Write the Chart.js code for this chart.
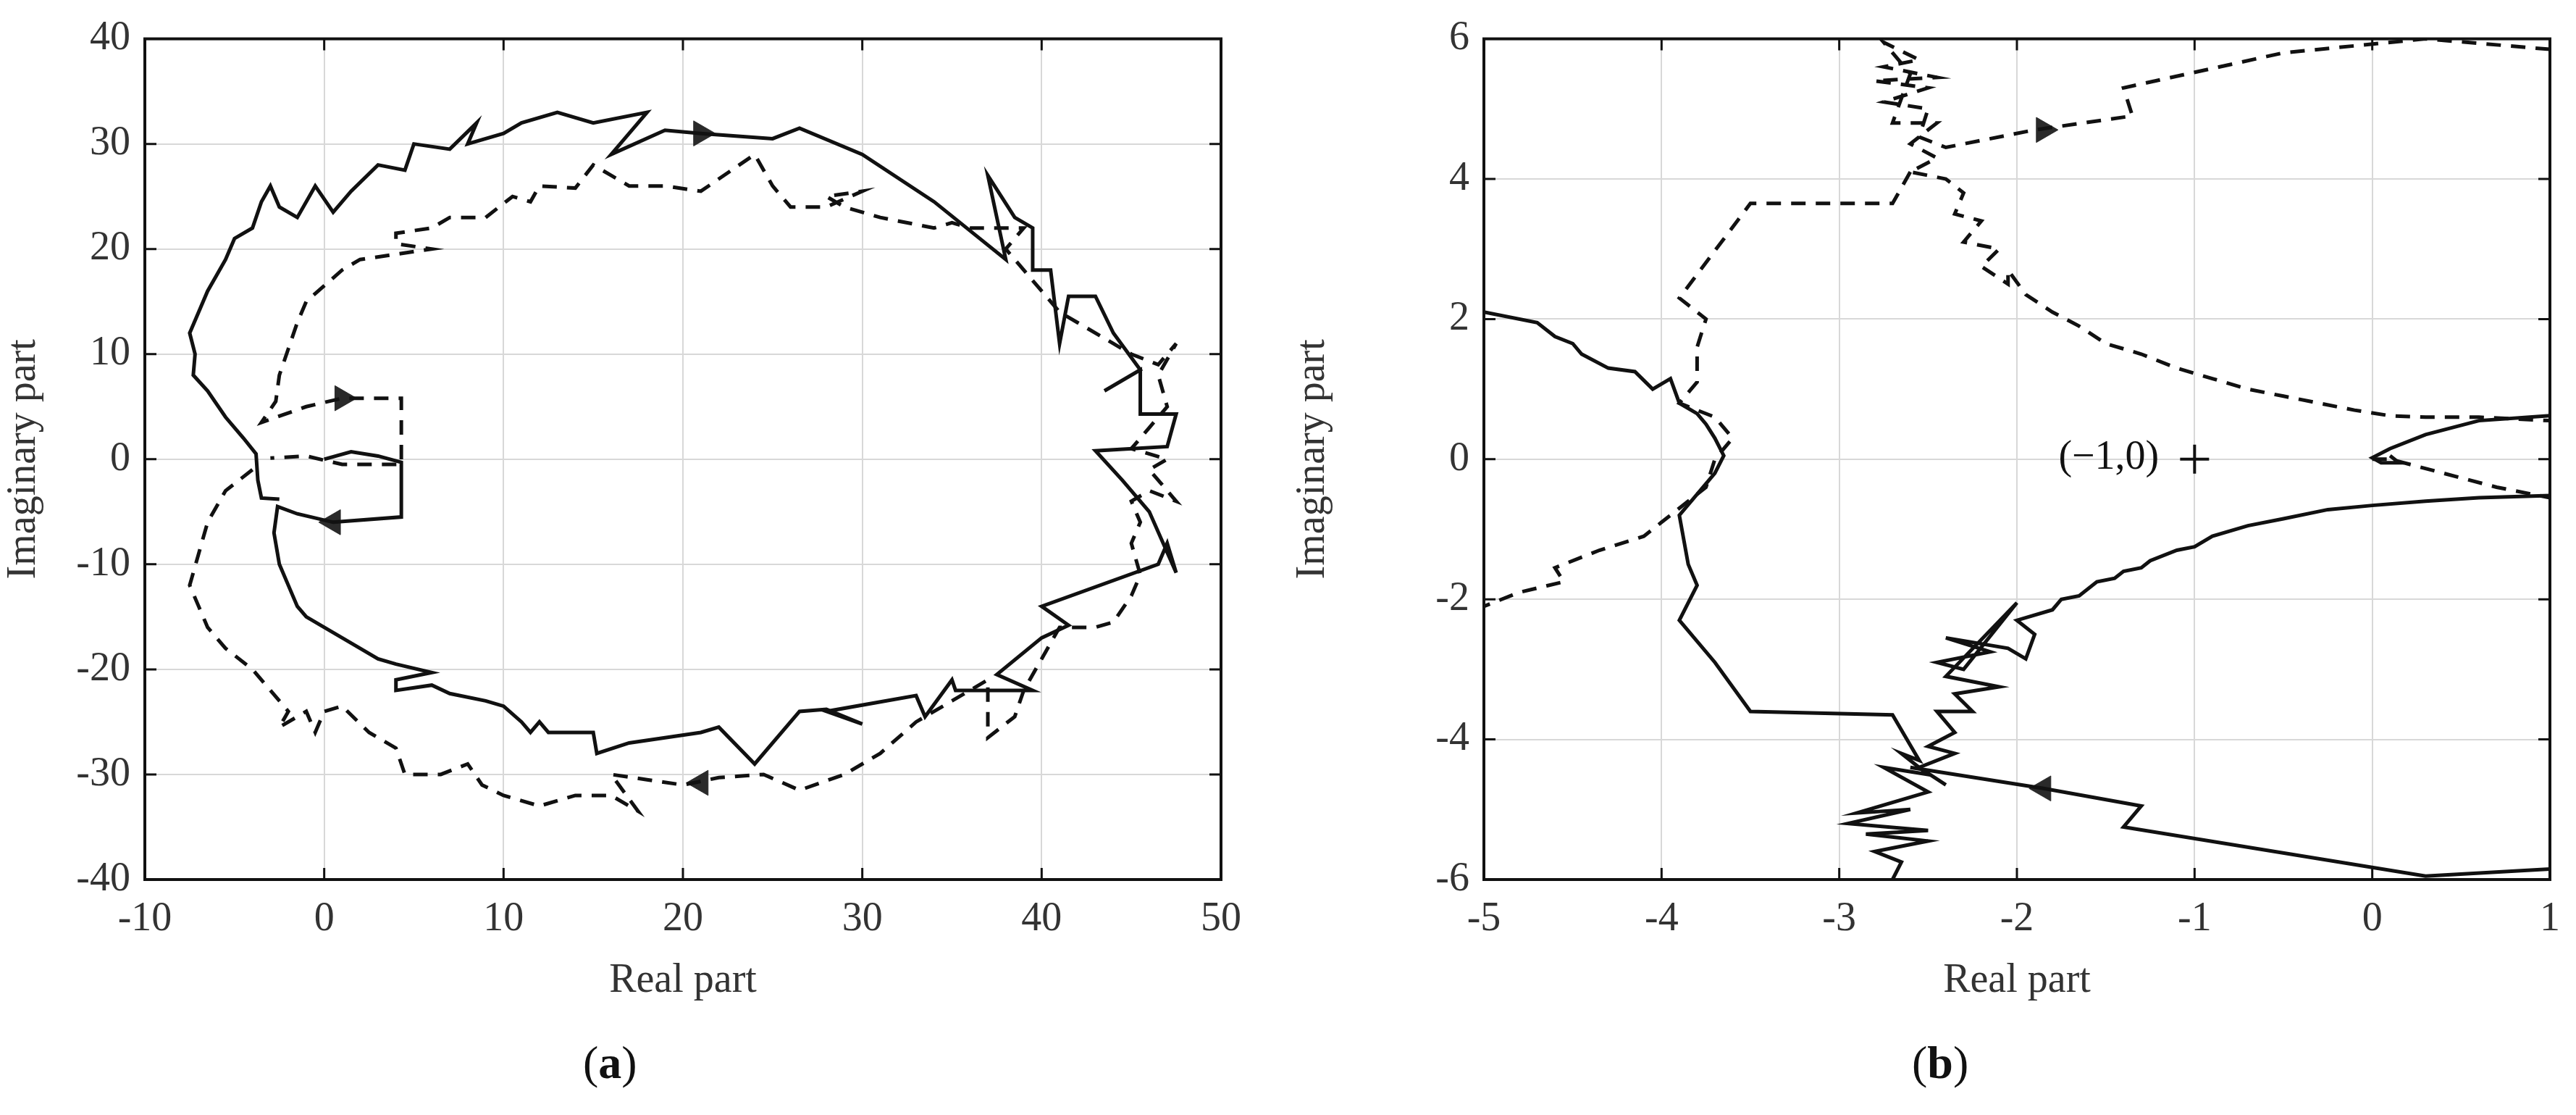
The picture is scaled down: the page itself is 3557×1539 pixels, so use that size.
<!DOCTYPE html>
<html>
<head>
<meta charset="utf-8">
<script src="https://cdn.jsdelivr.net/npm/chart.js@4.4.1/dist/chart.umd.min.js"></script>
<style>
  body { margin: 0; background: #fff; width: 3557px; height: 1539px; position: relative; overflow: hidden; }
  .wrap { position: absolute; top: 0; height: 1539px; }
  .lbl { position: absolute; font-family: "Liberation Serif", serif; font-size: 64px; color: #111; }
</style>
</head>
<body>
<div class="wrap" style="left:0;width:1740px"><canvas id="chartA"></canvas></div>
<div class="wrap" style="left:1780px;width:1777px"><canvas id="chartB"></canvas></div>
<div class="lbl" style="left:805px;top:1430px">(<b>a</b>)</div>
<div class="lbl" style="left:2640px;top:1430px">(<b>b</b>)</div>
<script>
// panel (a) — full Nyquist plot
const aSolid = [[0,0],[1.5,0.7],[3,0.3],[4.3,-0.3],[4.3,-5.5],[0.5,-6],[-1.5,-5.2],[-2.6,-4.5],[-2.8,-7],[-2.5,-10],[-2,-12],[-1.5,-14],[-1,-15],[0,-16],[1,-17],[2,-18],[3,-19],[4,-19.5],[6,-20.3],[4,-21],[4,-22],[6,-21.5],[7,-22.3],[9,-23],[10,-23.5],[11,-25],[11.5,-26],[12,-25],[12.5,-26],[15,-26],[15.2,-28],[17,-27],[19,-26.5],[21,-26],[22,-25.5],[24,-29],[26.5,-24],[28,-23.8],[30,-25.2],[28,-24],[33,-22.5],[33.5,-24.5],[35,-21],[35.2,-22],[39.5,-22],[37.5,-20.5],[40,-17],[41.5,-15.8],[40,-14],[46.5,-10],[47,-8],[47.5,-10.8],[46,-5],[44.5,-2],[43,0.8],[47,1.2],[47.5,4.3],[45.5,4.3],[45.5,8.5],[43.5,6.5],[45.5,8.5],[44,12],[43,15.5],[41.5,15.5],[41,11],[40.5,18],[39.5,18],[39.5,22],[38.5,23],[37,27],[38,19],[34,24.5],[30,29],[26.5,31.5],[25,30.5],[21,31],[19,31.3],[16,29],[18,33],[15,32],[13,33],[11,32],[10,31],[8,30],[8.5,32],[7,29.5],[5,30],[4.5,27.5],[3,28],[1.5,25.5],[0.5,23.5],[-0.5,26],[-1.5,23],[-2.5,24],[-3,26],[-3.5,24.5],[-4,22],[-5,21],[-5.5,19],[-6,17.5],[-6.5,16],[-7,14],[-7.5,12],[-7.2,10],[-7.3,8],[-6.5,6.5],[-5.5,4],[-4.5,2],[-3.8,0.5],[-3.7,-2],[-3.5,-3.7],[-2.5,-3.8]];
const aDashed = [[-4,-1],[-5.5,-3],[-6.5,-6],[-7,-9],[-7.5,-12],[-7,-14],[-6.5,-16],[-5.5,-18],[-4,-20],[-3,-22],[-2,-24],[-2.5,-25.5],[-1,-24],[-0.5,-26],[0,-24],[1,-23.5],[2.5,-26],[4,-27.5],[4.5,-30],[6.5,-30],[8,-29],[8.8,-31],[10,-32],[12,-33],[14,-32],[16,-32],[17.5,-33.5],[16,-30],[18,-30.5],[20,-31],[22,-30.3],[24.5,-30],[26.5,-31.5],[29,-30],[31,-28],[33,-25],[35,-23],[37,-21],[37,-26.5],[38.5,-24.5],[39,-22],[40,-19],[41,-16],[43,-16],[44,-15.5],[45,-13],[45.5,-11],[45,-8],[45.5,-6],[45,-4],[46,-3],[47.5,-4],[46,-1],[47,0],[45,1],[46,3],[47,5],[46.5,8],[47.5,11],[46.5,9],[45,10],[43.5,11.5],[42,13],[41,14],[40,16],[39,18],[38,20],[39,22],[36,22],[35,22.5],[34,22],[31,23],[29,24],[28,25],[30,25.5],[28,24],[26,24],[25,26],[24,29],[21,25.5],[19,26],[17,26],[16,27],[15,28],[14,25.8],[12,26],[11.5,24.5],[10.5,25],[9,23],[7,23],[6,22],[4,21.5],[4,20.5],[6,20],[4,19.5],[2,19],[1,18],[0,16.5],[-1,15],[-1.5,13],[-2,10.5],[-2.5,8],[-2.7,5.5],[-3.5,3.5],[-1,5],[1,5.8],[4.3,5.8],[4.3,-0.5],[1,-0.5],[-1,0.3],[-3,0.1]];
const aArrowsRight = [[21,31],[1,5.8]];
const aArrowsLeft = [[0.5,-6],[21,-30.8]];
const aXTicks = [-10, 0, 10, 20, 30, 40, 50];
const aYTicks = [-40, -30, -20, -10, 0, 10, 20, 30, 40];

// panel (b) — zoom around (-1,0)
const bSolid1 = [[-5,2.1],[-4.7,1.95],[-4.6,1.75],[-4.5,1.65],[-4.45,1.5],[-4.3,1.3],[-4.15,1.25],[-4.05,1.0],[-3.95,1.15],[-3.9,0.8],[-3.8,0.65],[-3.75,0.5],[-3.7,0.3],[-3.65,0.05],[-3.7,-0.2],[-3.75,-0.35],[-3.8,-0.5],[-3.9,-0.8],[-3.85,-1.5],[-3.8,-1.8],[-3.9,-2.3],[-3.7,-2.9],[-3.5,-3.6],[-2.7,-3.65],[-2.55,-4.3],[-2.65,-4.2],[-2.5,-4.5],[-2.75,-4.4],[-2.5,-4.75],[-2.9,-5.05],[-2.6,-5.0],[-2.95,-5.2],[-2.5,-5.3],[-2.85,-5.35],[-2.5,-5.45],[-2.8,-5.6],[-2.65,-5.75],[-2.7,-6]];
const bSolid2 = [[-2.6,-4.4],[-1.85,-4.7],[-1.3,-4.95],[-1.4,-5.25],[0.3,-5.95],[1,-5.85]];
const bSolid3 = [[-2.4,-4.65],[-2.55,-4.4],[-2.35,-4.2],[-2.5,-4.1],[-2.35,-3.9],[-2.45,-3.6],[-2.25,-3.6],[-2.35,-3.35],[-2.1,-3.25],[-2.4,-3.1],[-2.0,-2.05],[-2.3,-3.0],[-2.45,-2.9],[-2.15,-2.75],[-2.4,-2.55],[-2.05,-2.7],[-1.95,-2.85],[-1.9,-2.5],[-2.0,-2.3],[-1.8,-2.15],[-1.75,-2.0],[-1.65,-1.95],[-1.55,-1.75],[-1.45,-1.7],[-1.4,-1.6],[-1.3,-1.55],[-1.25,-1.45],[-1.1,-1.3],[-1.0,-1.25],[-0.9,-1.1],[-0.7,-0.95],[-0.5,-0.85],[-0.25,-0.72],[0,-0.66],[0.3,-0.6],[0.6,-0.55],[1,-0.52]];
const bSolid4 = [[1,0.62],[0.6,0.55],[0.3,0.35],[0.1,0.15],[0,0.02],[0.05,-0.05],[0.15,-0.05],[0.1,0.05]];
const bDashed1 = [[1,5.85],[0.3,6],[-0.5,5.8],[-1.4,5.3],[-1.35,4.9],[-1.9,4.7],[-2.4,4.45],[-2.55,4.6],[-2.5,5.0],[-2.75,5.1],[-2.5,5.3],[-2.8,5.4],[-2.45,5.45],[-2.75,5.6],[-2.55,5.7],[-2.75,5.95],[-2.6,5.5],[-2.7,4.8],[-2.45,4.8],[-2.6,4.5],[-2.45,4.3],[-2.6,4.1],[-2.4,4.0],[-2.3,3.8],[-2.35,3.5],[-2.2,3.4],[-2.3,3.1],[-2.1,3.0],[-2.2,2.75],[-2.05,2.5],[-2.05,2.7],[-1.95,2.35],[-1.8,2.1],[-1.65,1.9],[-1.5,1.65],[-1.3,1.5],[-1.1,1.3],[-0.9,1.15],[-0.7,1.0],[-0.5,0.9],[-0.3,0.8],[-0.1,0.7],[0.1,0.62],[0.3,0.6],[0.6,0.6],[1,0.55]];
const bDashed2 = [[-2.6,4.1],[-2.7,3.65],[-3.5,3.65],[-3.9,2.3],[-3.75,2.0],[-3.8,1.6],[-3.8,1.1],[-3.9,0.8],[-3.7,0.6],[-3.6,0.3],[-3.7,0],[-3.75,-0.4],[-3.85,-0.6],[-4.0,-0.9],[-4.1,-1.1],[-4.35,-1.3],[-4.6,-1.55],[-4.55,-1.75],[-4.8,-1.9],[-5,-2.1]];
const bDashed3 = [[0,0],[0.1,0],[0.4,-0.2],[0.7,-0.4],[1,-0.55]];
const bArrowsRight = [[-1.85,4.7]];
const bArrowsLeft = [[-1.85,-4.7]];
const bXTicks = [-5, -4, -3, -2, -1, 0, 1];
const bYTicks = [-6, -4, -2, 0, 2, 4, 6];
const bCritical = [[-1, 0]];

const FONT = '"Liberation Serif", serif';
const toXY = arr => arr.map(p => ({x: p[0], y: p[1]}));

function line(data, dashed) {
    return {
        data: toXY(data), showLine: true, borderColor: '#111', borderWidth: 5,
        borderDash: dashed ? [20, 14] : [], pointRadius: 0, tension: 0
    };
}
function arrows(data, rot) {
    return {
        data: toXY(data), showLine: false, pointStyle: 'triangle', rotation: rot,
        pointRadius: 20, backgroundColor: '#2a2a2a', borderColor: '#2a2a2a', borderWidth: 1
    };
}

const frame = {
    id: 'frame',
    afterDraw(chart) {
        const a = chart.chartArea, c = chart.ctx;
        c.save();
        c.strokeStyle = '#111';
        c.lineWidth = 4;
        c.strokeRect(a.left, a.top, a.right - a.left, a.bottom - a.top);
        // inward tick marks on all four sides
        const xs = chart.scales.x, ys = chart.scales.y;
        c.lineWidth = 3;
        xs.ticks.forEach(t => {
            const px = xs.getPixelForValue(t.value);
            c.beginPath(); c.moveTo(px, a.bottom); c.lineTo(px, a.bottom - 16);
            c.moveTo(px, a.top); c.lineTo(px, a.top + 16); c.stroke();
        });
        ys.ticks.forEach(t => {
            const py = ys.getPixelForValue(t.value);
            c.beginPath(); c.moveTo(a.left, py); c.lineTo(a.left + 16, py);
            c.moveTo(a.right, py); c.lineTo(a.right - 16, py); c.stroke();
        });
        const crit = chart.options.plugins.frame && chart.options.plugins.frame.label;
        if (crit) {
            c.fillStyle = '#111';
            c.font = '56px ' + FONT;
            c.textAlign = 'right';
            c.textBaseline = 'middle';
            c.fillText(crit, xs.getPixelForValue(-1.2), ys.getPixelForValue(0.02));
        }
        c.restore();
    }
};

function makeChart(id, datasets, xr, yr, xTicks, yTicks, yWidth, padRight, label) {
    return new Chart(document.getElementById(id), {
        type: 'scatter',
        data: { datasets },
        plugins: [frame],
        options: {
            responsive: true, maintainAspectRatio: false, animation: false,
            layout: { padding: { top: 42, right: padRight, left: 0, bottom: 151 } },
            plugins: { legend: { display: false }, tooltip: { enabled: false }, frame: { label } },
            scales: {
                x: {
                    type: 'linear', min: xr[0], max: xr[1],
                    afterBuildTicks: s => { s.ticks = xTicks.map(v => ({ value: v })); },
                    afterFit: s => { s.height = 174; },
                    grid: { color: '#d8d8d8', lineWidth: 2, drawTicks: false },
                    border: { display: false },
                    ticks: { color: '#333', font: { family: FONT, size: 56 }, padding: 22 },
                    title: { display: true, text: 'Real part', color: '#333', font: { family: FONT, size: 56 }, padding: 0 }
                },
                y: {
                    type: 'linear', min: yr[0], max: yr[1],
                    afterBuildTicks: s => { s.ticks = yTicks.map(v => ({ value: v })); },
                    afterFit: s => { s.width = yWidth; },
                    grid: { color: '#d8d8d8', lineWidth: 2, drawTicks: false },
                    border: { display: false },
                    ticks: { color: '#333', font: { family: FONT, size: 56 }, padding: 20 },
                    title: { display: true, text: 'Imaginary part', color: '#333', font: { family: FONT, size: 56 }, padding: 0 }
                }
            }
        }
    });
}

makeChart('chartA', [
    line(aSolid, false), line(aDashed, true),
    arrows(aArrowsRight, 90), arrows(aArrowsLeft, -90)
], [-10, 50], [-40, 40], aXTicks, aYTicks, 200, 54, null);

makeChart('chartB', [
    line(bSolid1, false), line(bSolid2, false), line(bSolid3, false), line(bSolid4, false),
    line(bDashed1, true), line(bDashed2, true), line(bDashed3, true),
    arrows(bArrowsRight, 90), arrows(bArrowsLeft, -90),
    { data: toXY(bCritical), showLine: false, pointStyle: 'cross', pointRadius: 20, borderColor: '#111', borderWidth: 4 }
], [-5, 1], [-6, 6], bXTicks, bYTicks, 269, 21, '(\u22121,0)');
</script>
</body>
</html>
